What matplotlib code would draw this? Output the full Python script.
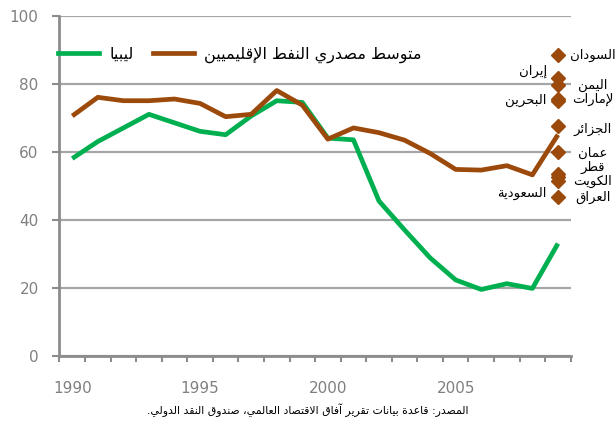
import matplotlib
matplotlib.use("Agg")
import matplotlib.pyplot as plt
from matplotlib.lines import Line2D

# Data (index, 1990-2009)
years = [1990, 1991, 1992, 1993, 1994, 1995, 1996, 1997, 1998, 1999,
         2000, 2001, 2002, 2003, 2004, 2005, 2006, 2007, 2008, 2009]
libya = [58, 63, 67, 71, 68.5, 66, 65, 70.5, 75, 74.5,
         64, 63.5, 45.5, 37, 28.8, 22.3, 19.5, 21.2, 19.8, 33]
regional_avg = [70.5, 76, 75, 75, 75.5, 74.2, 70.3, 71, 78, 73.7,
                63.7, 67, 65.6, 63.4, 59.5, 54.8, 54.6, 55.9, 53.2, 65]

# 2009 values of individual producers
countries = ["السودان", "إيران", "اليمن", "لإمارات", "البحرين", "الجزائر",
             "عمان", "قطر", "الكويت", "السعودية", "العراق"]
country_2009 = [88.4, 81.6, 79.5, 75.0, 75.5, 67.6, 60.0, 53.5, 51.5, 52.5, 46.8]

# label placement: (side, y position of the label in data units)
label_pos = {
    "السودان": ("r", 88.4), "إيران": ("l", 83.5), "اليمن": ("r", 79.6),
    "لإمارات": ("r", 75.5), "البحرين": ("l", 75.2), "الجزائر": ("r", 66.6),
    "عمان": ("r", 59.6), "قطر": ("r", 55.5), "الكويت": ("r", 51.2),
    "السعودية": ("l", 47.8), "العراق": ("r", 46.6),
}

legend_labels = ["ليبيا", "متوسط مصدري النفط الإقليميين"]
source = "المصدر: قاعدة بيانات تقرير آفاق الاقتصاد العالمي، صندوق النقد الدولي."

GREEN = "#00b050"
BROWN = "#9c4a0c"
GRAY = "#8c8c8c"

# --- minimal Arabic shaping (matplotlib has no bidi / joining) ---
LETTERS = {
    'ء': (0xFE80, 1), 'آ': (0xFE81, 2), 'أ': (0xFE83, 2), 'ؤ': (0xFE85, 2),
    'إ': (0xFE87, 2), 'ئ': (0xFE89, 4), 'ا': (0xFE8D, 2), 'ب': (0xFE8F, 4),
    'ة': (0xFE93, 2), 'ت': (0xFE95, 4), 'ث': (0xFE99, 4), 'ج': (0xFE9D, 4),
    'ح': (0xFEA1, 4), 'خ': (0xFEA5, 4), 'د': (0xFEA9, 2), 'ذ': (0xFEAB, 2),
    'ر': (0xFEAD, 2), 'ز': (0xFEAF, 2), 'س': (0xFEB1, 4), 'ش': (0xFEB5, 4),
    'ص': (0xFEB9, 4), 'ض': (0xFEBD, 4), 'ط': (0xFEC1, 4), 'ظ': (0xFEC5, 4),
    'ع': (0xFEC9, 4), 'غ': (0xFECD, 4), 'ف': (0xFED1, 4), 'ق': (0xFED5, 4),
    'ك': (0xFED9, 4), 'ل': (0xFEDD, 4), 'م': (0xFEE1, 4), 'ن': (0xFEE5, 4),
    'ه': (0xFEE9, 4), 'و': (0xFEED, 2), 'ى': (0xFEEF, 2), 'ي': (0xFEF1, 4),
}
LAMALEF = {'آ': 0xFEF5, 'أ': 0xFEF7, 'إ': 0xFEF9, 'ا': 0xFEFB}


def join_type(c):
    if isinstance(c, tuple):
        return "R"
    if c in LETTERS:
        n = LETTERS[c][1]
        return "D" if n == 4 else ("R" if n == 2 else "U")
    return "U"


def ar(text):
    chars = []
    i = 0
    while i < len(text):
        c = text[i]
        if c == 'ل' and i + 1 < len(text) and text[i + 1] in LAMALEF:
            chars.append(("LA", text[i + 1]))
            i += 2
        else:
            chars.append(c)
            i += 1
    out = []
    for k, c in enumerate(chars):
        prev = chars[k - 1] if k > 0 else None
        nxt = chars[k + 1] if k + 1 < len(chars) else None
        t = join_type(c)
        jp = prev is not None and join_type(prev) == "D" and t in "DR"
        jn = nxt is not None and t == "D" and join_type(nxt) in "DR"
        if isinstance(c, tuple):
            out.append(chr(LAMALEF[c[1]] + (1 if jp else 0)))
        elif t == "U":
            out.append(c)
        else:
            off = 3 if (jp and jn) else 2 if jn else 1 if jp else 0
            out.append(chr(LETTERS[c][0] + off))
    return "".join(reversed(out))


plt.rcParams["font.family"] = ["DejaVu Sans"]

fig = plt.figure(figsize=(6.15, 4.36), dpi=100)
ax = fig.add_axes([0.0967, 0.184, 0.8313, 0.780])

ax.plot(years, libya, color=GREEN, lw=3.4, solid_capstyle="butt", zorder=3)
ax.plot(years, regional_avg, color=BROWN, lw=3.4, solid_capstyle="butt", zorder=4)

last = years[-1]
ax.plot([last] * len(country_2009), country_2009, linestyle="none", marker="D",
        markersize=7, color=BROWN, zorder=5, clip_on=False)

for name, val in zip(countries, country_2009):
    side, ly = label_pos[name]
    if side == "r":
        ax.annotate(ar(name), (last, ly), xytext=(25, 0), textcoords="offset points",
                    ha="center", va="center", fontsize=9.5, annotation_clip=False)
    else:
        ax.annotate(ar(name), (last, ly), xytext=(-8, 0), textcoords="offset points",
                    ha="right", va="center", fontsize=9.5, annotation_clip=False)

ax.set_xlim(1989.5, 2009.5)
ax.set_ylim(0, 100)

# y axis
ax.set_yticks([0, 20, 40, 60, 80, 100])
ax.tick_params(axis="y", length=5, width=1.5, color=GRAY, pad=10,
               labelsize=11, labelcolor="#808080")
ax.yaxis.grid(True, color="#a6a6a6", lw=1.6)
ax.set_axisbelow(True)

# x axis: ticks between categories, labels every 5 years
ax.set_xticks([y - 0.5 for y in years] + [years[-1] + 0.5])
ax.set_xticklabels([])
ax.set_xticks([1990, 1995, 2000, 2005], minor=True)
ax.set_xticklabels(["1990", "1995", "2000", "2005"], minor=True)
ax.tick_params(axis="x", which="major", length=4, width=1.5, color=GRAY)
ax.tick_params(axis="x", which="minor", length=0, pad=18,
               labelsize=11, labelcolor="#808080")

for s in ["top", "right"]:
    ax.spines[s].set_visible(False)
for s in ["left", "bottom"]:
    ax.spines[s].set_color(GRAY)
    ax.spines[s].set_linewidth(2)

handles = [Line2D([], [], color=GREEN, lw=3.4), Line2D([], [], color=BROWN, lw=3.4)]
ax.legend(handles, [ar(t) for t in legend_labels], ncol=2, frameon=False,
          loc="center left", bbox_to_anchor=(-0.003, 0.884), borderpad=0,
          borderaxespad=0, handlelength=2.6, handletextpad=0.6,
          columnspacing=1.2, fontsize=11.5)

fig.text(308 / 615, 0.06, ar(source), ha="center", va="center", fontsize=7.8)

fig.savefig("out.png", dpi=100)
